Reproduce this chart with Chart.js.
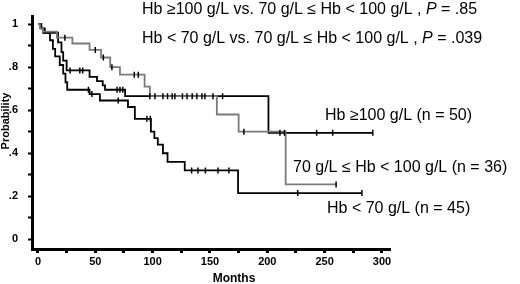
<!DOCTYPE html>
<html>
<head>
<meta charset="utf-8">
<script src="https://cdn.jsdelivr.net/npm/chart.js@4.4.1/dist/chart.umd.min.js"></script>
<style>
  html, body { margin: 0; padding: 0; background: #fff; }
  #wrap { width: 520px; height: 284px; position: relative; }
</style>
</head>
<body>
<div id="wrap"><canvas id="km"></canvas></div>
<script>
// Hb >= 100 g/L (n = 50)
var highTimes = [0, 3, 6, 17.5, 20.5, 22, 25, 45, 51.5, 56.5, 58.5, 76, 201, 292];
var highProb  = [1, .98, .96, .915, .87, .83, .785, .755, .735, .715, .695, .665, .495, .495];
var highCensored = [28, 36.5, 39, 69, 71.5, 74, 97.6, 113, 119.4, 130, 138.6, 145.6, 161, 211, 215, 243, 257, 292];

// 70 g/L <= Hb < 100 g/L (n = 36)
var midTimes = [0, 1.7, 4.4, 16.5, 30, 45, 55, 63, 71.5, 93, 97.6, 156, 175, 216, 260];
var midProb  = [1, .98, .965, .937, .91, .88, .845, .80, .765, .71, .665, .58, .50, .255, .255];
var midCensored = [23.5, 50, 57, 64.5, 84, 87.5, 102, 109, 117, 126, 134.5, 143, 152.6, 179.6, 260];

// Hb < 70 g/L (n = 45)
var lowTimes = [0, 2.5, 4.5, 10.5, 13, 15, 19, 22, 24, 25.5, 45, 54, 78.5, 84.5, 98.5, 101.5, 104.5, 109, 113, 128, 174.5, 282.5];
var lowProb  = [1, .98, .96, .925, .885, .85, .81, .77, .73, .695, .675, .645, .615, .56, .50, .47, .44, .40, .36, .32, .215, .215];
var lowCensored = [44, 47, 70, 95, 98, 134, 139.5, 146, 157, 166.5, 226.5, 282.5];

var xTicks = [0, 25, 50, 75, 100, 125, 150, 175, 200, 225, 250, 275, 300];
var xTickLabels = ['0', '', '50', '', '100', '', '150', '', '200', '', '250', '', '300'];
var yTicks = [0, .1, .2, .3, .4, .5, .6, .7, .8, .9, 1];
var yTickLabels = ['0', '', '.2', '', '.4', '', '.6', '', '.8', '', '1'];

var pLine1 = ['Hb \u2265100 g/L vs. 70 g/L \u2264 Hb < 100 g/L , ', 'P', ' = .85'];
var pLine2 = ['Hb < 70 g/L vs. 70 g/L \u2264 Hb < 100 g/L , ', 'P', ' = .039'];
var curveNames = ['Hb \u2265100 g/L (n = 50)', '70 g/L \u2264 Hb < 100 g/L (n = 36)', 'Hb < 70 g/L (n = 45)'];

function steps(ts, ps) {
    return ts.map(function (t, i) { return {x: t, y: ps[i]}; });
}
// survival level at a censoring time
function censorPoints(ts, ps, cs) {
    return cs.map(function (c) {
        var lvl = ps[0];
        for (var i = 0; i < ts.length; i++) { if (ts[i] <= c) lvl = ps[i]; }
        return {x: c, y: lvl};
    });
}

function curve(ts, ps, color, order) {
    return {
        data: steps(ts, ps), showLine: true, stepped: 'before',
        borderColor: color, borderWidth: 1.8, pointRadius: 0, fill: false, order: order
    };
}
function marks(ts, ps, cs) {
    return {
        data: censorPoints(ts, ps, cs), showLine: false,
        pointStyle: 'line', rotation: 90, pointRadius: 3,
        borderColor: '#000', borderWidth: 1.5, order: 0
    };
}

var textFont = '16px "Liberation Sans", Arial, sans-serif';
var textItalic = 'italic 16px "Liberation Sans", Arial, sans-serif';

var textPlugin = {
    id: 'kmText',
    afterDraw: function (chart) {
        var ctx = chart.ctx;
        ctx.save();
        ctx.fillStyle = '#000';
        ctx.textBaseline = 'alphabetic';
        ctx.textAlign = 'left';
        [[pLine1, 14], [pLine2, 43]].forEach(function (row) {
            var x = 142;
            row[0].forEach(function (part, i) {
                ctx.font = i === 1 ? textItalic : textFont;
                ctx.fillText(part, x, row[1]);
                x += ctx.measureText(part).width;
            });
        });
        ctx.font = textFont;
        ctx.fillText(curveNames[0], 325, 120);
        ctx.fillText(curveNames[1], 293, 172);
        ctx.fillText(curveNames[2], 327, 213);

        ctx.font = 'bold 12px "Liberation Sans", Arial, sans-serif';
        ctx.textAlign = 'center';
        ctx.fillText('Months', 234, 282);
        ctx.translate(9, 121);
        ctx.rotate(-Math.PI / 2);
        ctx.font = 'bold 11px "Liberation Sans", Arial, sans-serif';
        ctx.fillText('Probability', 0, 0);
        ctx.restore();
    }
};

var tickFont = {family: '"Liberation Sans", Arial, sans-serif', size: 11, weight: 'bold'};

new Chart(document.getElementById('km'), {
    type: 'scatter',
    data: {
        datasets: [
            marks(highTimes, highProb, highCensored),
            marks(midTimes, midProb, midCensored),
            marks(lowTimes, lowProb, lowCensored),
            curve(midTimes, midProb, '#7a7a7a', 1),
            curve(highTimes, highProb, '#000', 2),
            curve(lowTimes, lowProb, '#000', 3)
        ]
    },
    options: {
        responsive: true,
        maintainAspectRatio: false,
        animation: false,
        devicePixelRatio: 1,
        layout: {padding: {top: 8, right: 130, left: 0, bottom: 0}},
        plugins: {legend: {display: false}, tooltip: {enabled: false}},
        scales: {
            x: {
                type: 'linear', min: -5.2, max: 307,
                afterBuildTicks: function (s) { s.ticks = xTicks.map(function (v) { return {value: v}; }); },
                afterFit: function (s) { s.height = 35; },
                ticks: {
                    autoSkip: false, maxRotation: 0, padding: 2, color: '#000', font: tickFont,
                    callback: function (v) { return xTickLabels[xTicks.indexOf(v)]; }
                },
                grid: {display: true, drawOnChartArea: false, drawTicks: true, tickLength: 4, tickWidth: 3, tickColor: '#000'},
                border: {display: true, color: '#000', width: 3}
            },
            y: {
                min: -0.045, max: 1.035,
                afterBuildTicks: function (s) { s.ticks = yTicks.map(function (v) { return {value: v}; }); },
                afterFit: function (s) { s.width = 32; },
                ticks: {
                    autoSkip: false, padding: 10, color: '#000', font: tickFont,
                    callback: function (v) { return yTickLabels[Math.round(v * 10)]; }
                },
                grid: {display: true, drawOnChartArea: false, drawTicks: true, tickLength: 4, tickWidth: 2, tickColor: '#000'},
                border: {display: true, color: '#000', width: 3}
            }
        }
    },
    plugins: [textPlugin]
});
</script>
</body>
</html>
